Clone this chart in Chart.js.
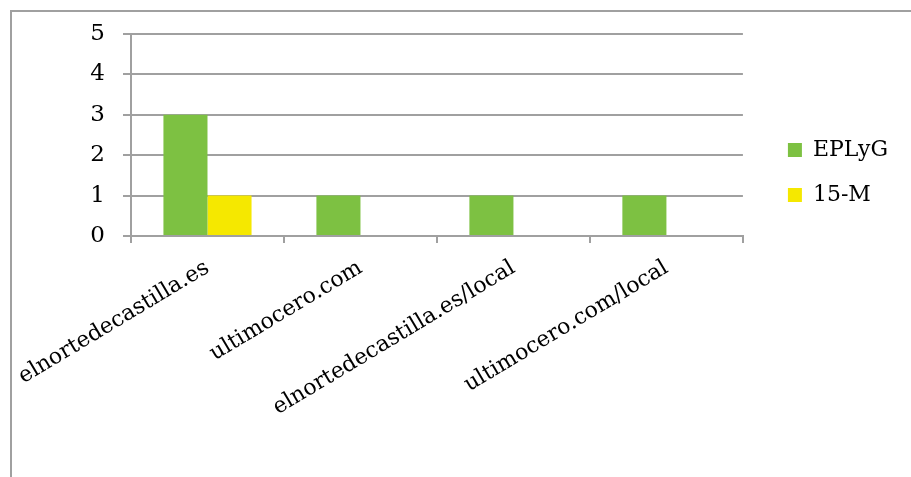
<!DOCTYPE html>
<html>
<head>
<meta charset="utf-8">
<title>Menciones por medio</title>
<script src="https://cdn.jsdelivr.net/npm/chart.js@4.4.1/dist/chart.umd.min.js"></script>
<style>
  html, body { margin: 0; padding: 0; background: #ffffff; overflow: hidden; }
  #frame {
    position: absolute; left: 10px; top: 10px; width: 920px; height: 480px;
    border-left: 2px solid #a0a0a0; border-top: 2px solid #a0a0a0;
  }
  .chart-container { position: absolute; left: 0; top: 0; width: 911px; height: 477px; }
</style>
</head>
<body>
<div id="frame"></div>
<div class="chart-container"><canvas id="myChart"></canvas></div>
<script>
// Chart data
const categories = ['elnortedecastilla.es', 'ultimocero.com', 'elnortedecastilla.es/local', 'ultimocero.com/local'];
const eplygValues = [3, 1, 1, 1];
const m15Values = [1, 0, 0, 0];
const yTicks = [0, 1, 2, 3, 4, 5];

const fontFamily = "'DejaVu Serif', serif";
const gridColor = '#a0a0a0';

document.addEventListener('DOMContentLoaded', () => {
  const canvas = document.getElementById('myChart');
  if (!canvas) {
    console.error('Chart canvas element not found in DOM');
    return;
  }

  const data = {
    labels: categories,
    datasets: [
      {
        label: 'EPLyG',
        data: eplygValues,
        backgroundColor: '#7dc142',
        borderWidth: 0
      },
      {
        label: '15-M',
        data: m15Values,
        backgroundColor: '#f5e800',
        borderWidth: 0
      }
    ]
  };

  const options = {
    responsive: true,
    maintainAspectRatio: false,
    animation: false,
    layout: { padding: { top: 34, left: 0, right: 13, bottom: 0 } },
    datasets: {
      bar: { barPercentage: 1, categoryPercentage: 0.576 }
    },
    plugins: {
      legend: {
        position: 'right',
        align: 'start',
        title: { display: true, text: '', font: { size: 10 }, padding: { top: 70, bottom: 0 } },
        labels: {
          color: '#000000',
          boxWidth: 14,
          boxHeight: 14,
          padding: 23,
          font: { family: fontFamily, size: 22 }
        }
      },
      tooltip: { enabled: false }
    },
    scales: {
      x: {
        grid: { drawOnChartArea: false, color: gridColor, lineWidth: 2, tickLength: 7 },
        border: { display: true, color: gridColor, width: 2 },
        ticks: {
          color: '#000000',
          autoSkip: false,
          minRotation: 31,
          maxRotation: 31,
          padding: 12,
          font: { family: fontFamily, size: 22 }
        },
        afterFit: (scale) => {
          scale.height = 241;
          // rotated labels may hang past the plot edges, like in the original
          scale.paddingLeft = 0;
          scale.paddingRight = 0;
        }
      },
      y: {
        min: 0,
        max: 5,
        grid: { color: gridColor, lineWidth: 2, tickLength: 8 },
        border: { display: true, color: gridColor, width: 2 },
        afterBuildTicks: (scale) => { scale.ticks = yTicks.map(v => ({ value: v })); },
        ticks: {
          color: '#000000',
          padding: 18,
          font: { family: fontFamily, size: 23 }
        },
        afterFit: (scale) => { scale.width = 131; }
      },
      // empty spacer between plot area and legend
      spacer: {
        type: 'linear',
        position: 'right',
        display: true,
        grid: { display: false },
        border: { display: false },
        ticks: { display: false },
        afterFit: (scale) => { scale.width = 22; }
      }
    }
  };

  try {
    const myChart = new Chart(canvas, { type: 'bar', data: data, options: options });
    console.log('Chart initialized successfully', myChart.chartArea);
  } catch (error) {
    console.error('Failed to initialize chart:', error);
  }
});
</script>
</body>
</html>
